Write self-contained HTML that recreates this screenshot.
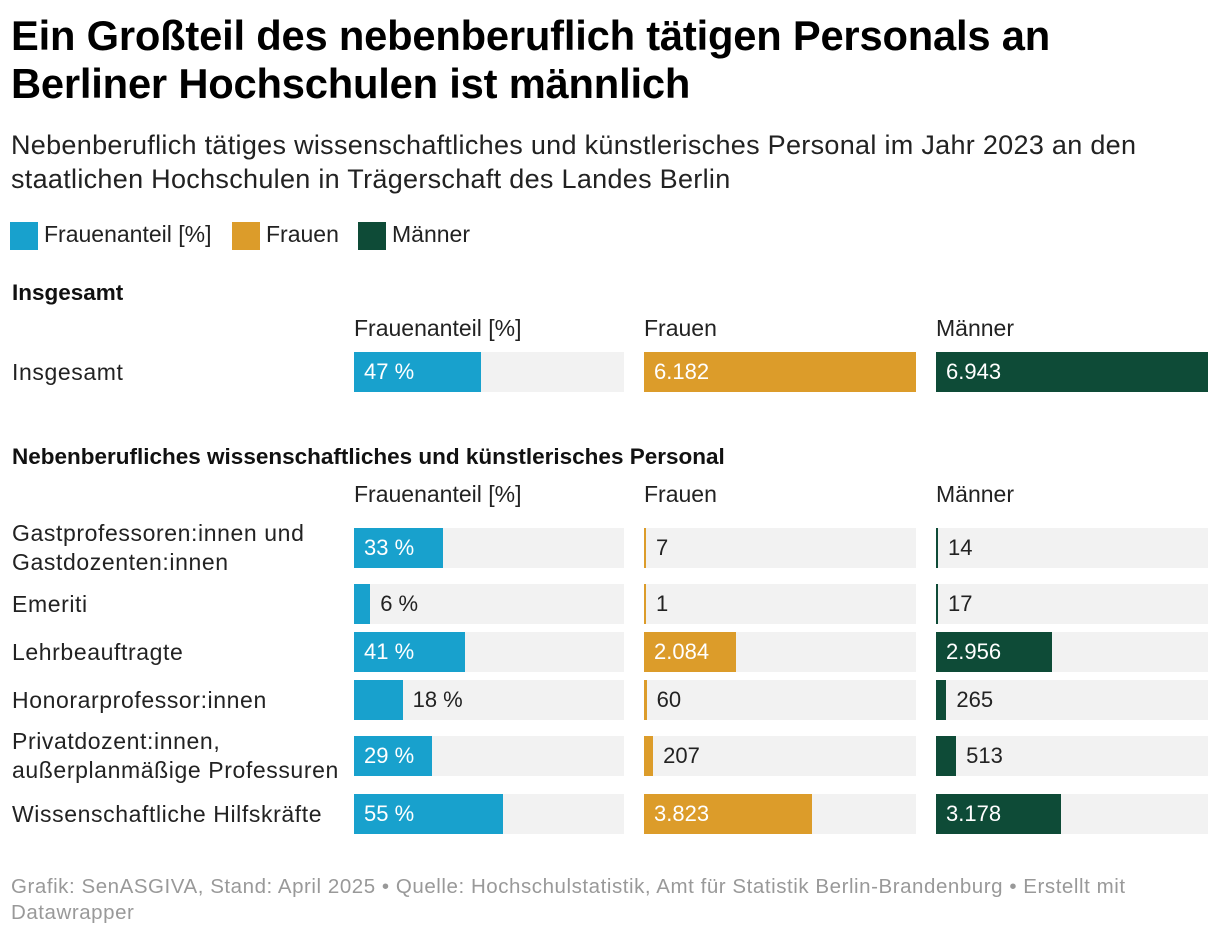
<!DOCTYPE html>
<html><head><meta charset="utf-8"><style>
body{margin:0;width:1220px;height:936px;background:#fff;font-family:"Liberation Sans",sans-serif;color:#181818;position:relative;overflow:hidden}
.a{position:absolute;white-space:nowrap}
h1{position:absolute;left:11px;top:12px;margin:0;font-size:41.7px;line-height:48px;font-weight:bold;letter-spacing:-0.2px;color:#000}
.sub{left:11px;top:128px;font-size:27px;line-height:34px;color:#222;white-space:normal;width:1180px;letter-spacing:0.3px}
.lg{top:221px;font-size:23px;color:#222}
.sw{position:absolute;top:222px;width:28px;height:28px}
.sec{font-size:22.5px;font-weight:bold;left:12px;color:#111}
.hd{font-size:23px;color:#222}
.rl{font-size:23px;left:12px;line-height:29px;color:#222;letter-spacing:0.6px}
.bg{position:absolute;background:#f2f2f2}
.bar{position:absolute}
.v{position:absolute;font-size:22px}
.foot{left:11px;top:874px;font-size:20.5px;line-height:26px;color:#999;white-space:normal;width:1180px;letter-spacing:0.55px}
</style></head><body>
<h1>Ein Großteil des nebenberuflich tätigen Personals an<br>Berliner Hochschulen ist männlich</h1>
<div class="a sub">Nebenberuflich tätiges wissenschaftliches und künstlerisches Personal im Jahr 2023 an den staatlichen Hochschulen in Trägerschaft des Landes Berlin</div>
<div class="sw" style="left:10px;background:#18a1cd"></div>
<div class="a lg" style="left:44px">Frauenanteil [%]</div>
<div class="sw" style="left:232px;background:#dc9c2a"></div>
<div class="a lg" style="left:266px">Frauen</div>
<div class="sw" style="left:358px;background:#0e4b37"></div>
<div class="a lg" style="left:392px">Männer</div>
<div id="chart"></div>
<div class="a foot">Grafik: SenASGIVA, Stand: April 2025 • Quelle: Hochschulstatistik, Amt für Statistik Berlin-Brandenburg • Erstellt mit Datawrapper</div>
<script>
const totalLabels=["Insgesamt"];
const totalShare=[47];
const totalWomen=[6182];
const totalMen=[6943];
const groupLabels=["Gastprofessoren:innen und<br>Gastdozenten:innen","Emeriti","Lehrbeauftragte","Honorarprofessor:innen","Privatdozent:innen,<br>außerplanmäßige Professuren","Wissenschaftliche Hilfskräfte"];
const groupShare=[33,6,41,18,29,55];
const groupWomen=[7,1,2084,60,207,3823];
const groupMen=[14,17,2956,265,513,3178];

const root=document.getElementById('chart');
const cols=[{x:354,w:270,color:'#18a1cd',max:100,fmt:v=>v+' %',name:'frauenanteil'},
 {x:644,w:272,color:'#dc9c2a',max:Math.max(...totalWomen,...groupWomen),fmt:v=>v.toLocaleString('de-DE'),name:'frauen'},
 {x:936,w:272,color:'#0e4b37',max:Math.max(...totalMen,...groupMen),fmt:v=>v.toLocaleString('de-DE'),name:'maenner'}];
const heads=["Frauenanteil [%]","Frauen","Männer"];
function el(cls,style,html){const d=document.createElement('div');d.className=cls;d.style.cssText=style;if(html!==undefined)d.innerHTML=html;root.appendChild(d);return d;}
function section(title,ty,hy,labels,vals,tops){
 const s=el('a sec','top:'+ty+'px',title);
 
 
 heads.forEach((h,i)=>{const d=el('a hd','left:'+cols[i].x+'px;top:'+hy+'px',h);
 
 });
 labels.forEach((lab,r)=>{
  const top=tops[r];const multi=lab.includes('<br>');
  const l=el('a rl','top:'+(top+20-(multi?29:14.5))+'px',lab);
  
  
  cols.forEach((c,i)=>{
   const v=vals[i][r];
   const bg=el('bg','left:'+c.x+'px;top:'+top+'px;width:'+c.w+'px;height:40px');
   
   
   const w=Math.max(2,v/c.max*c.w);
   const b=el('bar','left:'+c.x+'px;top:'+top+'px;width:'+w+'px;height:40px;background:'+c.color);
   
   
   const txt=c.fmt(v);const inside=w>txt.length*11+20;
   const t=el('v','top:'+(top+7)+'px;left:'+(inside?c.x+10:c.x+w+10)+'px;color:'+(inside?'#fff':'#222'),txt);
   
   
  });
 });
}
section('Insgesamt',280,315,totalLabels,[totalShare,totalWomen,totalMen],[352]);
section('Nebenberufliches wissenschaftliches und künstlerisches Personal',444,481,groupLabels,[groupShare,groupWomen,groupMen],[528,584,632,680,736,794]);
</script>
</body></html>
